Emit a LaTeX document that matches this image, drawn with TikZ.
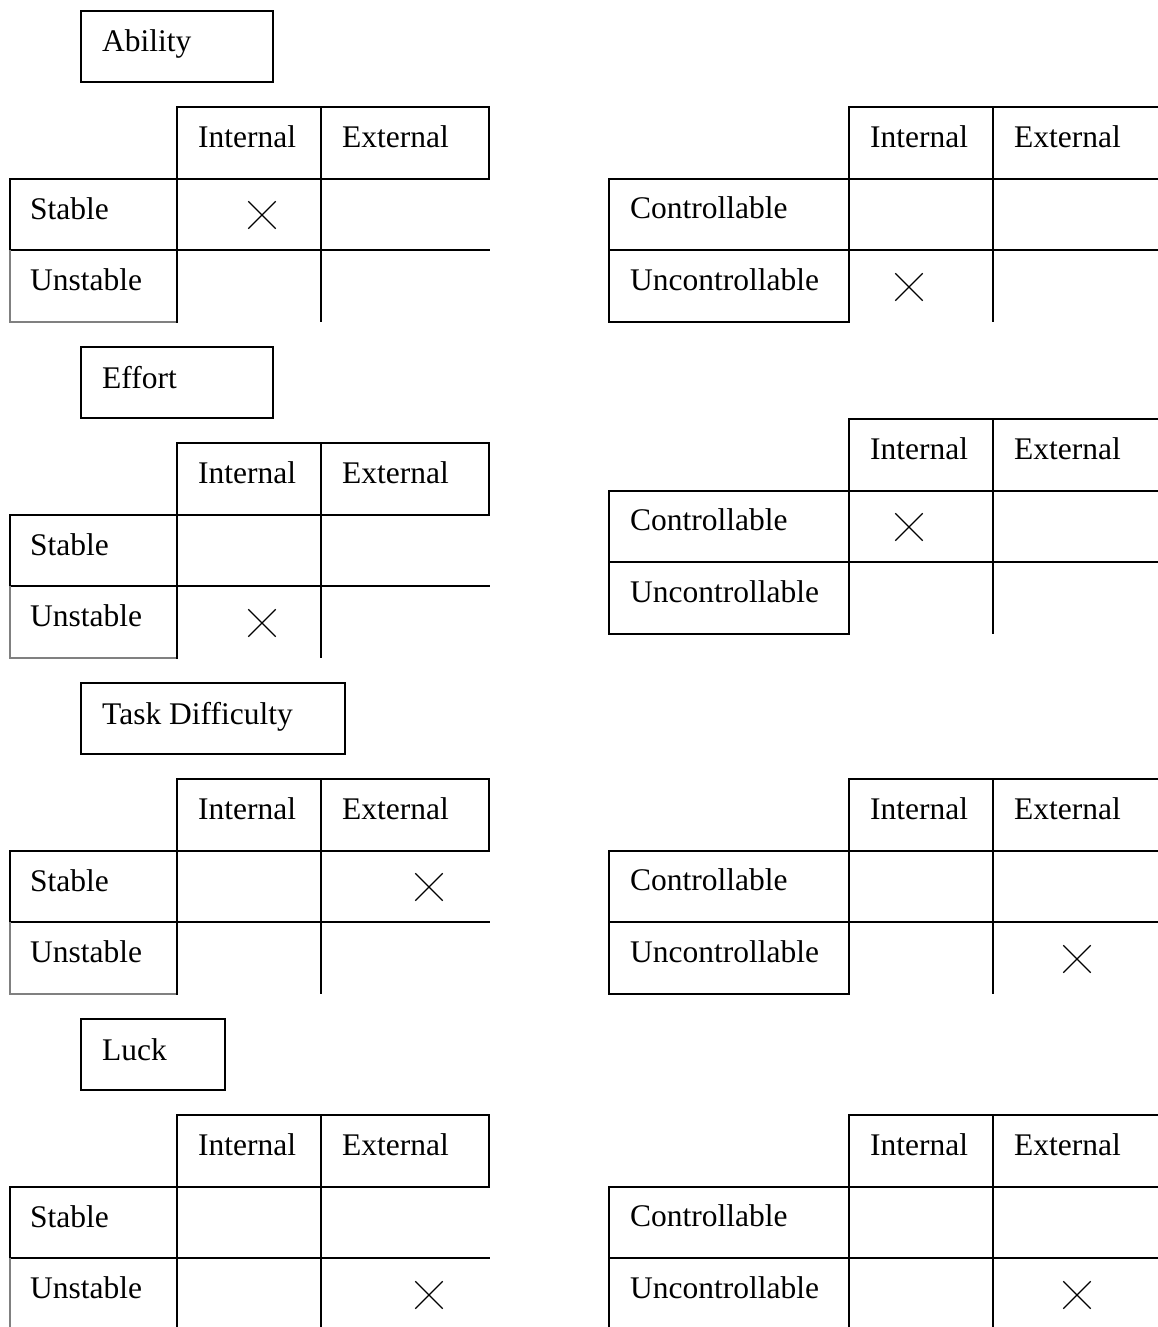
\documentclass[tikz,border=0pt]{standalone}
\usepackage{fontspec}
\setmainfont{Liberation Serif}
\usetikzlibrary{shapes.misc}
\begin{document}
\begin{tikzpicture}[x=1pt,y=-1pt,
    every node/.style={font=\fontsize{31.5}{36}\selectfont,anchor=base west,inner sep=0pt},
    rule/.style={line width=1.8pt,line cap=rect},
    thinrule/.style={line width=1.2pt},
    faintrule/.style={line width=1.2pt,black!50},
    crossmark/.style={cross out,draw,anchor=center,minimum size=26pt,line width=1.3pt}]
    \useasboundingbox (0,0) rectangle (1158,1327);

    \foreach \g/\ty/\tw/\ttl in {ab/11/192/Ability,ef/347/192/Effort,td/683/264/Task Difficulty,lu/1019/144/Luck} {
        \draw[rule] (81,\ty) rectangle (81+\tw,\ty+71);
        \node (\g-title) at (102,\ty+41) {\ttl};
    }

    \foreach \g/\ty/\cx/\cy in {ab/107/262/1,ef/443/262/2,td/779/429/1,lu/1115/429/2} {
        \draw[rule] (177,\ty+72) -- (177,\ty) -- (489,\ty) -- (489,\ty+72);
        \draw[rule] (321,\ty) -- (321,\ty+72);
        \draw[rule] (10,\ty+143) -- (10,\ty+72) -- (489,\ty+72);
        \draw[rule] (10,\ty+143) -- (489,\ty+143);
        \draw[faintrule] (10,\ty+143) -- (10,\ty+215) -- (177,\ty+215);
        \draw[rule] (177,\ty+72) -- (177,\ty+215);
        \draw[thinrule] (321,\ty+72) -- (321,\ty+215);
        \node (\g-lint) at (198,\ty+40) {Internal};
        \node (\g-lext) at (342,\ty+40) {External};
        \node (\g-lsta) at (30,\ty+112) {Stable};
        \node (\g-luns) at (30,\ty+183) {Unstable};
        \node[crossmark] (\g-lx) at (\cx,\ty+36+72*\cy) {};
    }

    \foreach \g/\ty/\cx/\cy in {ab/107/909/2,ef/419/909/1,td/779/1077/2,lu/1115/1077/2} {
        \draw[rule] (849,\ty+72) -- (849,\ty) -- (1162,\ty);
        \draw[rule] (993,\ty) -- (993,\ty+72);
        \draw[rule] (609,\ty+72) -- (1162,\ty+72);
        \draw[rule] (609,\ty+143) -- (1162,\ty+143);
        \draw[rule] (609,\ty+72) -- (609,\ty+215) -- (849,\ty+215);
        \draw[rule] (849,\ty+72) -- (849,\ty+215);
        \draw[thinrule] (993,\ty+72) -- (993,\ty+215);
        \node (\g-rint) at (870,\ty+40) {Internal};
        \node (\g-rext) at (1014,\ty+40) {External};
        \node (\g-rcon) at (630,\ty+111) {Controllable};
        \node (\g-runc) at (630,\ty+183) {Uncontrollable};
        \node[crossmark] (\g-rx) at (\cx,\ty+36+72*\cy) {};
    }
\end{tikzpicture}
\end{document}
